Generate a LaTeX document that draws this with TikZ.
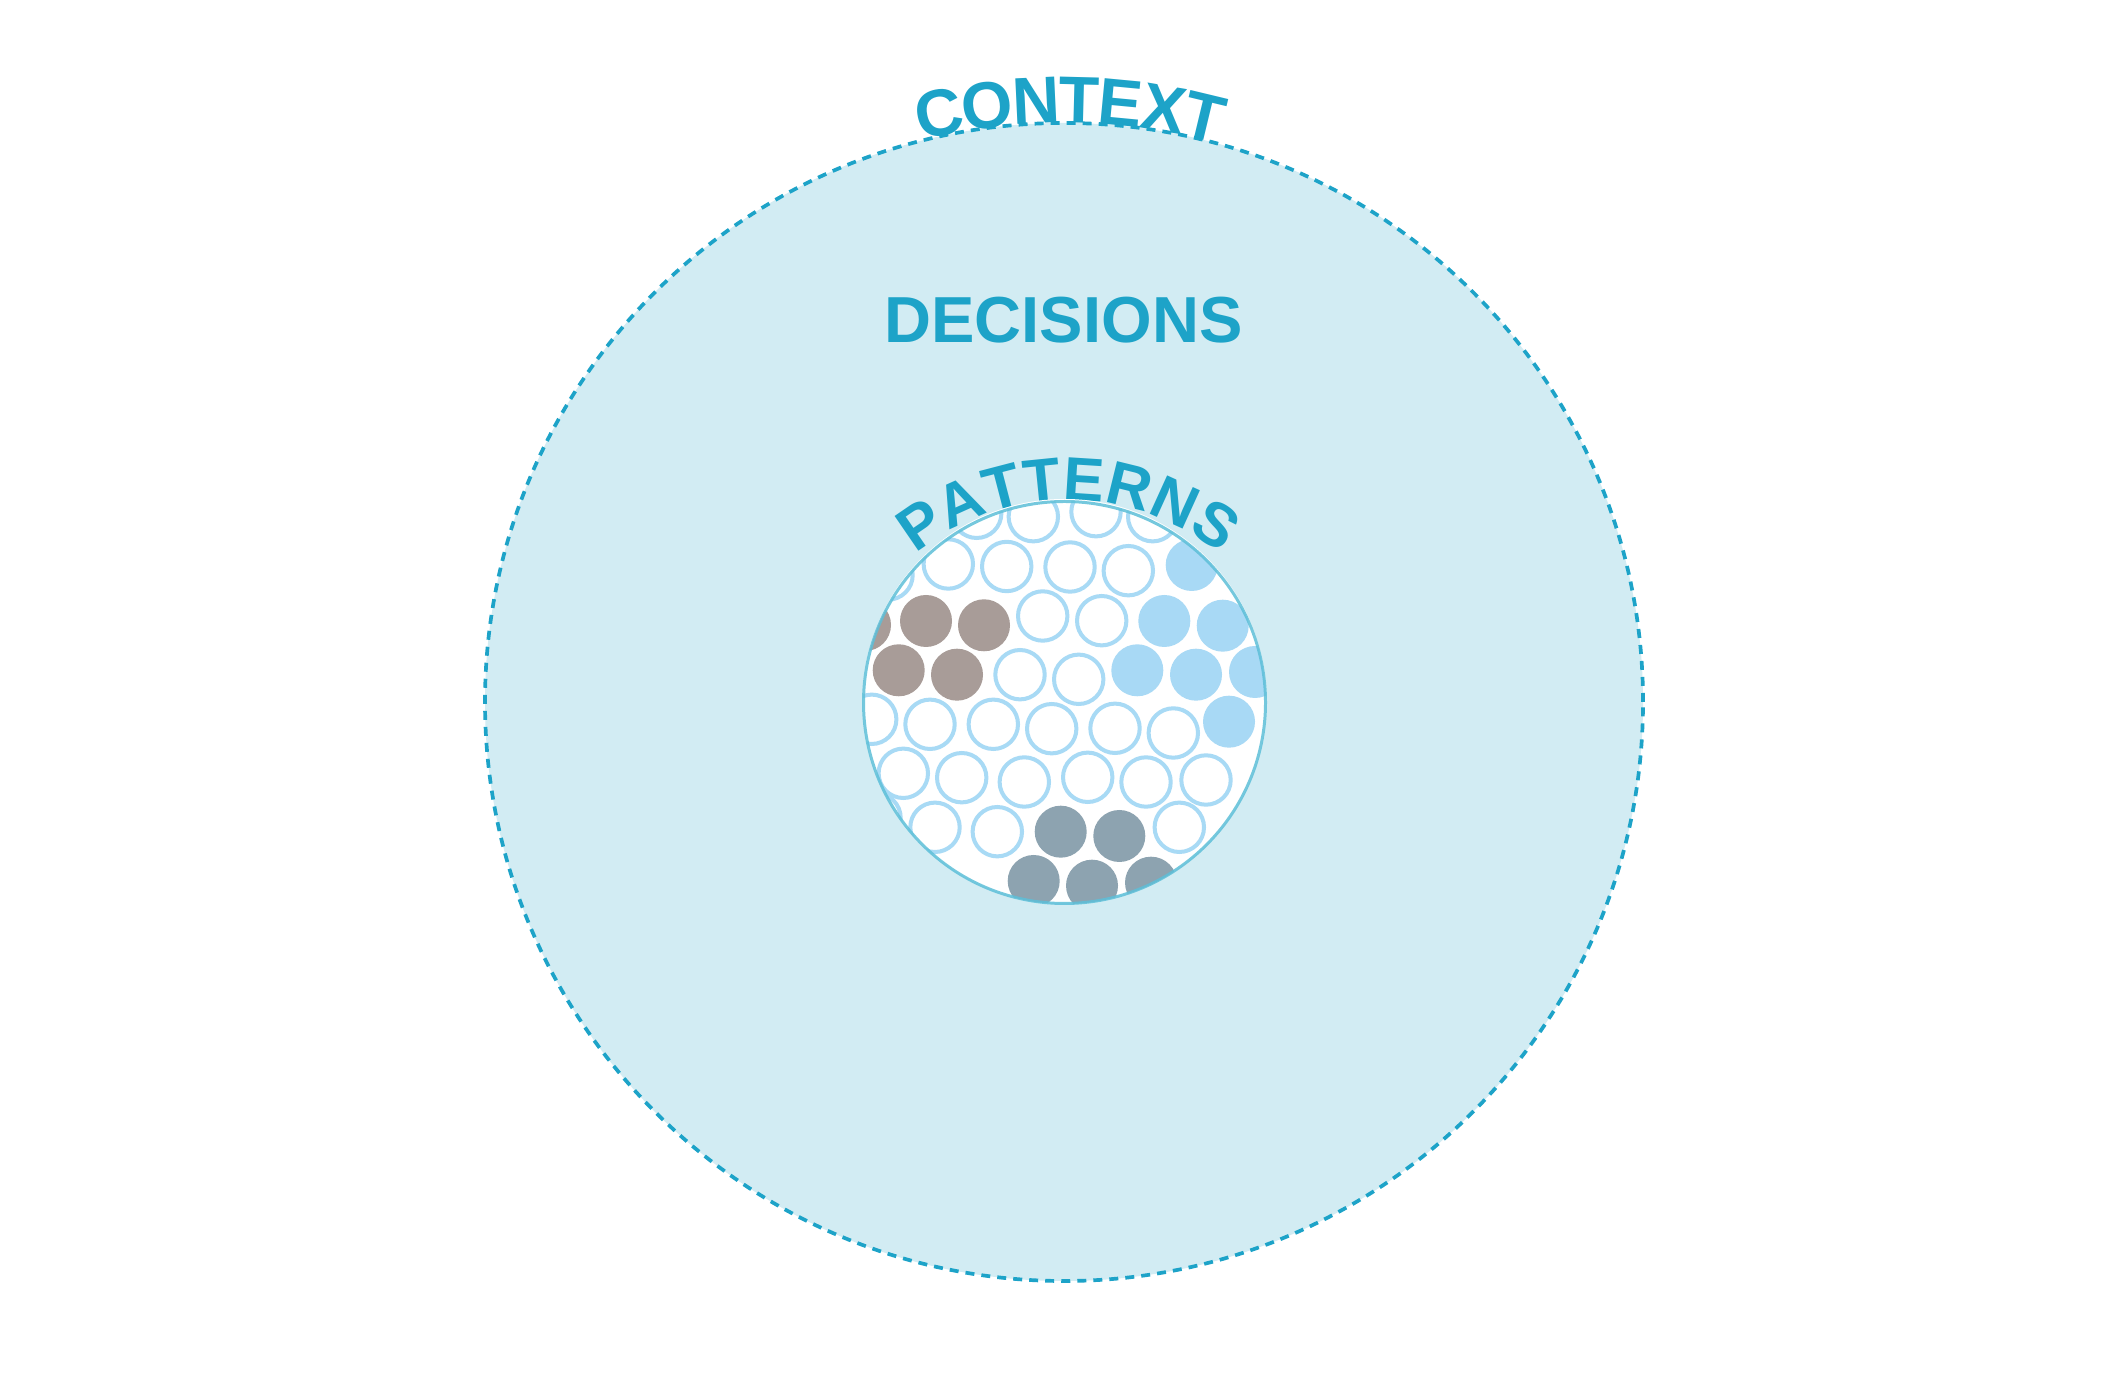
\documentclass[tikz,border=0pt]{standalone}
\usepackage{fontspec}
\setmainfont{Liberation Sans}
\usetikzlibrary{decorations.text}
\definecolor{bgfill}{HTML}{D2ECF3}
\definecolor{tcol}{HTML}{1DA3C8}
\definecolor{ringcol}{HTML}{A8DAF5}
\definecolor{lblue}{HTML}{A8D9F5}
\definecolor{pbrown}{HTML}{A89C98}
\definecolor{slate}{HTML}{8DA3B0}
\definecolor{rimcol}{HTML}{5DBFD8}
\begin{document}
\begin{tikzpicture}[x=0.01cm,y=0.01cm,
  ringdot/.style={draw=ringcol,line width=1.14pt,fill=white},
  bluedot/.style={fill=lblue},
  browndot/.style={fill=pbrown},
  slatedot/.style={fill=slate},
  bigtext/.style={text=tcol,font=\fontsize{18.5}{20}\selectfont\bfseries,inner sep=0pt},
  ctxletter/.style={text=tcol,font=\fontsize{18.8}{20}\selectfont\bfseries,inner sep=0pt,anchor=base}]
\useasboundingbox (0,0) rectangle (2125,1397);
\fill[white] (0,0) rectangle (2125,1397);
\coordinate (oc) at (1064,695);
\coordinate (ic) at (1064.5,694.5);
% outer context circle
\fill[bgfill] (oc) circle[radius=579];
\draw[tcol,line width=1.05pt,dash pattern=on 2.56pt off 2pt] (oc) circle[radius=579];
% CONTEXT along the circle, letter by letter
\foreach \ch/\ang [count=\i] in {C/101.98, O/97.33, N/92.68, T/88.54, E/84.58, X/80.44, T/76.47}
  \node[ctxletter,rotate=\ang-90] (ctx\i) at ([shift={(\ang:579)}]oc) {\ch};
% DECISIONS
\node[bigtext,anchor=base] (dec) at (1063.5,1054.3) {DECISIONS};
% PATTERNS along arc
\path[decorate,decoration={text along path,text align=center,text color=tcol,
  text={|\fontsize{17.4}{20}\selectfont\bfseries|PATTERNS}}]
  (1068,657) ++(150:240) arc[start angle=150,end angle=30,radius=240];
% inner patterns disk
\fill[white] (1064.5,696) circle[radius=202];
\begin{scope}
  \clip (ic) circle[radius=201.5];
  \foreach \x/\y in {976.7/883.7, 1033.3/880.3, 1096/885.3, 1152.7/880.3,
      888/822, 948.3/833, 1006.7/830.5, 1070/830, 1128.3/826.3,
      1042.7/781, 1101.7/776.3,
      1020/722.3, 1078.7/717.7,
      871.7/677.7, 930/672.7, 993.3/672.7, 1051.7/668.3, 1115/668.7, 1173.3/664,
      903.3/623.7, 961.7/619.3, 1024.3/615, 1087.7/619.7, 1146/615, 1206/617,
      876/579, 935/569.7, 997.3/565.3, 1179.3/569.7}
    \draw[ringdot] (\x,\y) circle[radius=24.7];
  \foreach \x/\y in {1191.7/832, 1164.3/776, 1222.7/771.3, 1137.3/726.7, 1196/722.3, 1255/725, 1229/675.3}
    \fill[bluedot] (\x,\y) circle[radius=26];
  \foreach \x/\y in {865/772, 926/776, 984/771.7, 898.7/726.7, 957/722.3}
    \fill[browndot] (\x,\y) circle[radius=26];
  \foreach \x/\y in {1060.7/565.3, 1119.3/561, 1033.7/516, 1092/511.3, 1151/514.3}
    \fill[slatedot] (\x,\y) circle[radius=26];
\end{scope}
\draw[rimcol,opacity=0.85,line width=0.85pt] (ic) circle[radius=201];
\end{tikzpicture}
\end{document}
